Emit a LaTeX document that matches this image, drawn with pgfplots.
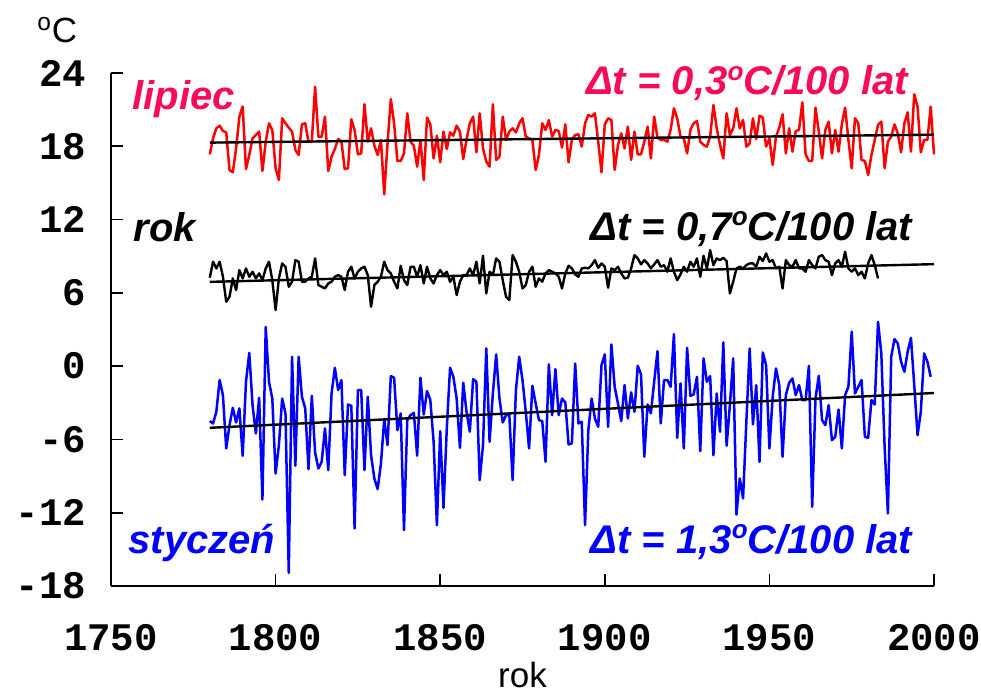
\documentclass[border=0pt]{standalone}
\usepackage{fontspec}
\setmainfont{Liberation Sans}
\newfontfamily\monofont{Liberation Mono}
\usepackage{pgfplots}
\usepackage{pgfplotstable}
\pgfplotsset{compat=1.18}
\definecolor{crim}{RGB}{250,10,90}
\newcommand{\dego}{\raisebox{0.36em}{\fontsize{13}{13}\selectfont o}}

% January (styczen), 1780-1999
\pgfplotstableread[row sep=\\]{v\\
-4.5\\-4.69\\-3.74\\-1.14\\-2.37\\-6.74\\-4.83\\-3.41\\-4.61\\-3.46\\
-7.34\\-1.28\\1.09\\-3.19\\-5.51\\-2.59\\-10.92\\3.22\\-1.28\\-2.65\\
-8.79\\-6.47\\-2.65\\-3.87\\-16.92\\0.77\\-8.16\\0.77\\-2.51\\-3.46\\
-8.43\\-2.43\\-7.07\\-8.38\\-7.83\\-5.1\\-8.51\\-2.24\\-0.13\\-1.96\\
-1.14\\-8.92\\-3.14\\-3.25\\-13.29\\-1.96\\-1.96\\-8.51\\-2.51\\-7.29\\
-9.2\\-10.07\\-7.97\\-4.34\\-6.47\\-0.82\\-0.95\\-5.24\\-3.87\\-13.43\\
-4.42\\
-4.01\\-3.82\\-7.34\\-0.95\\-3.96\\-2.04\\-2.78\\-6.19\\-13.02\\-5.32\\
-11.6\\-5.1\\-0.13\\-0.87\\-2.65\\-6.69\\-1.36\\-3.74\\-5.37\\-1.06\\
-1.28\\-9.33\\-6.47\\1.45\\-6.19\\-2.24\\0.96\\-2.65\\-4.61\\-4.01\\
-4.01\\-9.33\\-1.96\\0.77\\-1.14\\-3.74\\-6.74\\-1.61\\-3.05\\-4.42\\
-4.5\\-7.83\\0.14\\-4.01\\-0.24\\-4.01\\-2.65\\-2.97\\-6.41\\-6.33\\
0.22\\-4.69\\-4.56\\-13.02\\-5.24\\-2.65\\-4.28\\-4.97\\0.08\\0.96\\
-4.97\\
1.78\\-1.69\\-3.05\\-4.5\\-1.55\\-4.28\\-2.15\\-3.74\\0.03\\-0.68\\
-7.42\\-3.14\\-3.87\\-1.28\\1.23\\-4.69\\-1.14\\-1.14\\-1.69\\2.62\\
-5.87\\-1.42\\-6.74\\1.5\\-2.43\\-2.32\\-0.87\\-6.96\\0.63\\-1.28\\
-0.82\\-7.29\\-2.24\\-5.37\\1.94\\-6.52\\-3.19\\0.63\\-12.15\\-9.2\\
-10.83\\-4.56\\1.45\\-4.77\\-1.55\\-7.83\\1.12\\0.08\\-6.74\\-2.51\\
-0.19\\-1.55\\-7.42\\-2.37\\-1.36\\-1.01\\-2.37\\-1.55\\
-2.78\\-2.78\\0.03\\-11.52\\-2.65\\-0.79\\-4.42\\-4.83\\-3.19\\-6.06\\
-5.78\\-3.55\\-6.74\\-2.37\\-1.69\\2.82\\-2.24\\-1.69\\-1.14\\-5.78\\
-5.87\\-2.78\\-3.14\\3.63\\1.04\\-6.6\\-12.06\\0.77\\2.21\\1.86\\
0.36\\-0.46\\1.18\\2.32\\-1.55\\-5.65\\-3.74\\1.04\\0.36\\-0.87\\
}\styczen

% July (lipiec), 1780-2000
\pgfplotstableread[row sep=\\]{v\\
17.34\\18.65\\19.47\\19.69\\19.25\\19.14\\16.06\\15.87\\17.83\\20.43\\
21.25\\16.14\\17.29\\18.65\\18.93\\19.2\\15.98\\18.38\\19.88\\19.34\\
16.2\\15.24\\20.29\\19.88\\19.53\\19.2\\17.7\\17.29\\19.8\\19.88\\
18.38\\18.38\\22.88\\18.79\\18.79\\20.43\\15.98\\17.15\\17.78\\18.6\\
18.38\\16.14\\16.2\\20.21\\19.34\\17.34\\17.42\\21.44\\18.38\\19.47\\
18.05\\17.29\\18.52\\14.07\\18.24\\21.87\\19.88\\16.8\\16.8\\17.42\\
20.7\\18.38\\18.05\\16.33\\18.52\\15.24\\20.35\\19.8\\17.01\\18.87\\
16.69\\19.2\\17.78\\19.14\\18.87\\19.69\\19.2\\16.96\\
18.52\\19.88\\20.43\\17.51\\20.7\\17.83\\16.74\\16.33\\21.44\\16.88\\
17.15\\20.43\\18.52\\19.2\\19.47\\19.14\\19.88\\20.29\\18.79\\18.65\\
18.52\\16.06\\17.29\\19.88\\19.34\\20.15\\18.79\\19.34\\19.25\\17.89\\
19.8\\16.69\\18.52\\18.93\\18.98\\17.97\\19.88\\20.56\\20.43\\20.7\\
18.38\\15.87\\19.8\\20.29\\20.15\\16.06\\18.11\\19.06\\17.83\\19.61\\
16.88\\19.2\\17.34\\17.34\\18.38\\19.61\\17.01\\20.43\\18.71\\18.52\\
18.52\\18.38\\19.34\\21.11\\20.29\\18.79\\18.65\\17.42\\19.34\\19.88\\
20.07\\
18.38\\18.11\\17.97\\18.79\\21.38\\19.47\\18.11\\17.01\\20.7\\18.93\\
19.47\\21.11\\19.47\\20.15\\17.97\\18.24\\20.29\\18.6\\20.51\\20.35\\
17.97\\18.65\\16.47\\18.79\\19.53\\20.62\\17.42\\19.47\\17.56\\19.25\\
19.34\\21.6\\17.34\\16.8\\16.8\\21.16\\19.2\\17.01\\19.34\\20.02\\
17.42\\19.34\\17.56\\19.8\\21.16\\18.52\\16.2\\20.29\\19.88\\16.88\\
16.8\\15.65\\17.29\\18.52\\19.75\\20.02\\16.2\\18.38\\18.79\\19.8\\
19.06\\17.51\\19.88\\20.78\\17.56\\22.26\\21.25\\17.51\\18.52\\18.52\\
21.25\\17.34\\
}\lipiec

% annual mean (rok), 1780-1983
\pgfplotstableread[row sep=\\]{v\\
7.24\\8.55\\8.0\\8.55\\7.32\\5.27\\5.68\\7.18\\6.23\\7.86\\
7.18\\8.0\\7.32\\7.73\\7.18\\7.59\\7.04\\8.0\\8.55\\7.04\\
4.59\\7.18\\8.41\\8.14\\6.5\\6.91\\8.68\\8.55\\6.91\\6.91\\
7.18\\7.32\\8.82\\6.64\\6.5\\6.36\\6.77\\6.91\\7.32\\7.45\\
7.32\\6.23\\7.73\\8.14\\7.18\\7.73\\8.0\\8.14\\7.45\\4.86\\
6.64\\6.91\\7.32\\8.55\\7.86\\7.59\\6.91\\6.36\\8.22\\7.04\\
6.64\\8.14\\8.14\\7.32\\8.27\\6.77\\8.14\\7.18\\6.77\\7.45\\
7.86\\7.45\\7.73\\6.91\\7.32\\5.82\\6.91\\7.45\\7.45\\8.0\\
7.45\\8.55\\6.77\\9.04\\5.95\\7.73\\7.45\\8.82\\8.55\\7.04\\
5.68\\5.41\\9.09\\8.55\\7.73\\6.36\\6.64\\7.73\\8.14\\6.5\\
7.18\\6.91\\7.59\\7.86\\7.73\\7.59\\7.32\\6.36\\7.59\\
8.22\\8.0\\7.51\\7.32\\8.0\\8.05\\8.0\\8.27\\8.68\\8.05\\
8.41\\8.14\\6.42\\8.0\\7.86\\8.14\\7.59\\7.18\\7.24\\8.0\\
9.09\\8.82\\8.33\\8.68\\8.41\\8.0\\8.33\\8.68\\8.14\\8.27\\
7.73\\8.82\\7.73\\7.04\\7.51\\8.14\\7.73\\8.55\\8.14\\8.82\\
7.32\\9.04\\8.0\\9.5\\8.27\\8.82\\8.68\\8.87\\8.6\\5.95\\
6.91\\8.0\\8.14\\8.0\\8.27\\8.41\\8.41\\8.14\\8.96\\8.6\\
9.23\\8.55\\8.68\\8.0\\8.14\\6.36\\8.68\\8.27\\8.14\\8.68\\
8.0\\8.0\\7.73\\8.68\\8.27\\8.0\\8.96\\9.09\\8.68\\8.55\\
7.45\\8.41\\8.68\\8.14\\9.37\\8.0\\7.73\\8.0\\7.45\\7.73\\
7.18\\8.41\\9.09\\8.27\\7.18\\
}\rok

\begin{document}
\begin{tikzpicture}
\useasboundingbox (-55.5pt,-54.5pt) rectangle (435pt,293pt);
\begin{axis}[
  scale only axis, width=411.5pt, height=256.5pt,
  xmin=1750, xmax=2000, ymin=-18, ymax=24,
  axis x line=bottom, axis y line=left,
  axis line style={-, line width=0.8pt},
  xtick={1750,1800,...,2000}, ytick={-18,-12,...,24},
  tick align=inside, major tick length=6pt,
  tick style={black, line width=0.8pt},
  /pgf/number format/assume math mode=true,
  /pgf/number format/1000 sep={},
  tick label style={font=\monofont\bfseries\fontsize{19.5}{19.5}\selectfont},
  yticklabel style={xshift=-9pt},
  xticklabel style={yshift=-15.5pt},
  clip=false,
  every axis plot/.append style={line join=round},
]
\addplot[red, line width=1.25pt] table[x expr=\coordindex+1780, y=v] {\lipiec};
\addplot[black, line width=1.2pt] table[x expr=\coordindex+1780, y=v] {\rok};
\addplot[blue, line width=1.25pt] table[x expr=\coordindex+1780, y=v] {\styczen};

\addplot[black, line width=1.2pt] coordinates {(1780,18.3) (2000,18.95)};
\addplot[black, line width=1.2pt] coordinates {(1780,6.9) (2000,8.35)};
\addplot[black, line width=1.2pt] coordinates {(1780,-5.05) (2000,-2.2)};

\node[anchor=north west, inner sep=0, font=\fontsize{17.5}{17.5}\selectfont]
  at (axis cs:1727.5,28.6) {\textsuperscript{o}C};
\node[anchor=base, inner sep=0, font=\fontsize{17.5}{17.5}\selectfont]
  at (axis cs:1875,-18) [yshift=-51pt] {rok};

\begin{scope}[every node/.style={inner sep=0, font=\bfseries\itshape\fontsize{20}{20}\selectfont}]
\node[anchor=base west, text=crim] at (axis cs:1756.4,21.0) {lipiec};
\node[anchor=base east, text=crim] at (axis cs:1992.2,22.2) {Δt = 0,3\dego C/100 lat};
\node[anchor=base west, text=black] at (axis cs:1756.7,10.2) {rok};
\node[anchor=base east, text=black] at (axis cs:1993.5,10.3) {Δt = 0,7\dego C/100 lat};
\node[anchor=base west, text=blue] at (axis cs:1755.2,-15.3) {styczeń};
\node[anchor=base east, text=blue] at (axis cs:1993.5,-15.3) {Δt = 1,3\dego C/100 lat};
\end{scope}
\end{axis}
\end{tikzpicture}
\end{document}
